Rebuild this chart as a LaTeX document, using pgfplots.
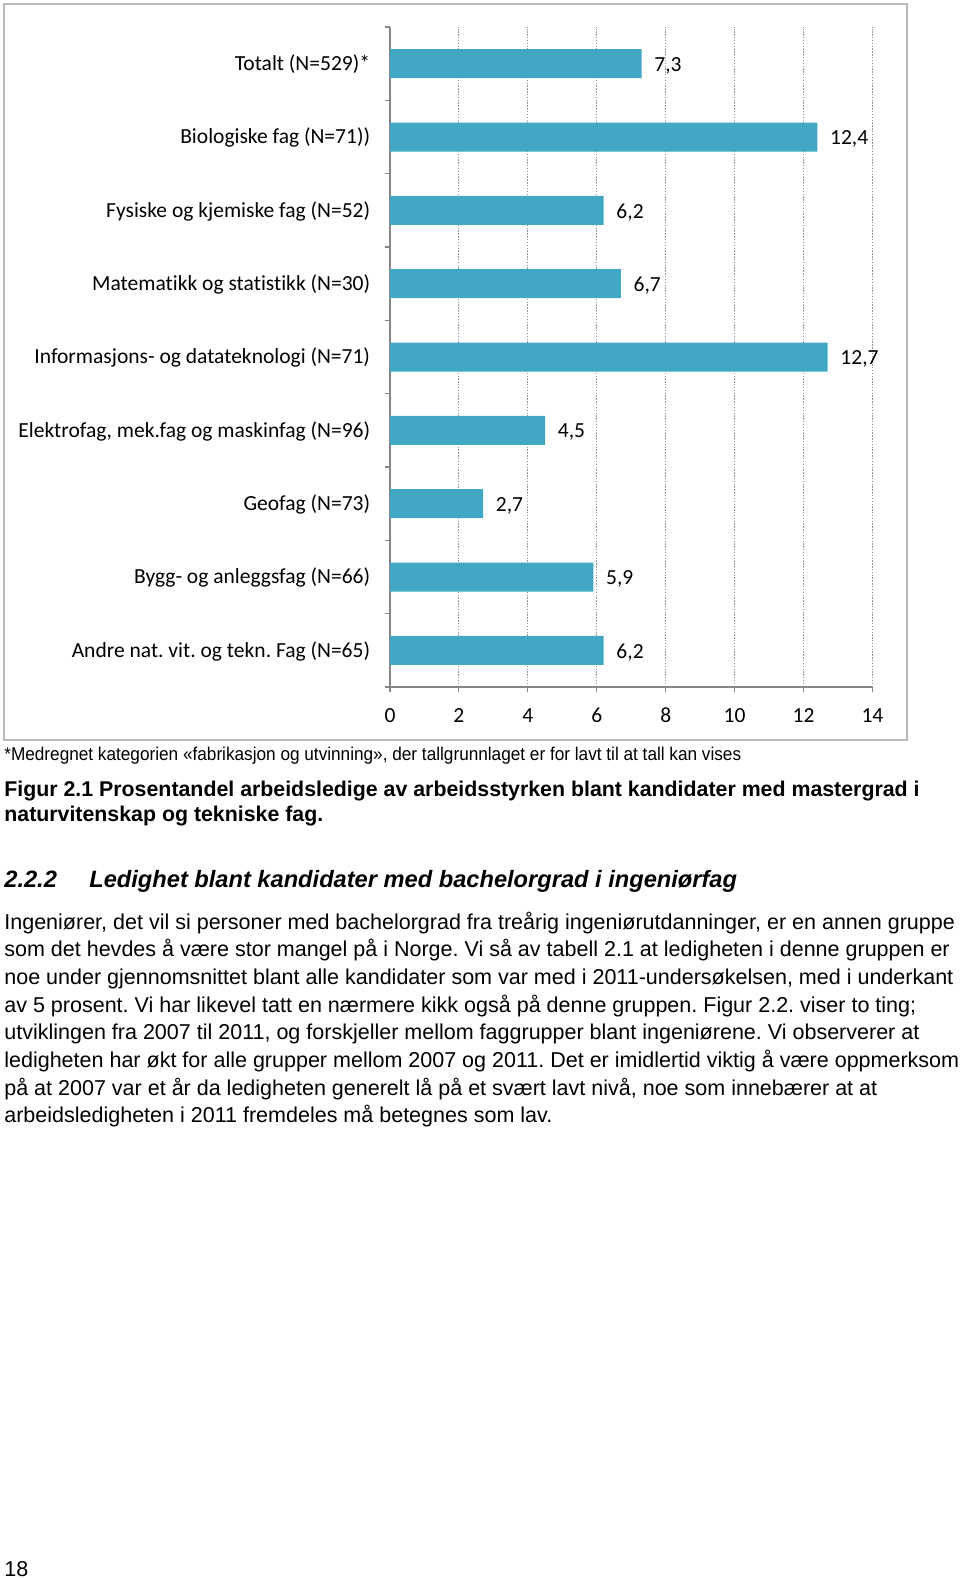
\documentclass[border=0pt]{standalone}
\usepackage{fontspec}
\setmainfont{Liberation Sans}
\newfontfamily\chartfont[Ligatures={NoCommon,NoContextual}]{Carlito}
\newfontfamily\narrowfont[FakeStretch=0.93]{Liberation Sans}
\usepackage{pgfplots}
\pgfplotsset{compat=1.18}
\definecolor{barblue}{RGB}{64,167,196}
\definecolor{axgray}{RGB}{134,134,134}
\definecolor{gridgray}{RGB}{150,150,150}
\definecolor{framegray}{RGB}{185,185,185}
\newcommand{\cf}{\chartfont\fontsize{12.1}{14}\selectfont}
\frenchspacing
\begin{document}
\frenchspacing
\begin{tikzpicture}[x=0.5625pt,y=-0.5625pt]
\path[use as bounding box] (0,0) rectangle (960,1578);
\draw[framegray, line width=0.9pt] (4,4) rectangle (907,740);
\coordinate (axorigin) at (390,687);
\begin{axis}[
  at={(axorigin)}, anchor=south west,
  scale only axis, width=271.4pt, height=371.25pt,
  xmin=0, xmax=14, ymin=-0.5, ymax=8.5,
  xbar, bar width=16.3pt,
  axis x line*=bottom, axis y line*=left,
  axis line style={axgray, line width=0.6pt, -},
  xtick={0,2,...,14},
  ytick={-0.5,0.5,...,8.5},
  y tick label as interval,
  yticklabels={Andre nat.\ vit.\ og tekn.\ Fag (N=65), Bygg- og anleggsfag (N=66), Geofag (N=73), {Elektrofag, mek.fag og maskinfag (N=96)}, Informasjons- og datateknologi (N=71), Matematikk og statistikk (N=30), Fysiske og kjemiske fag (N=52), Biologiske fag (N=71)), Totalt (N=529)*},
  tick align=outside,
  major tick length=3pt,
  tick style={axgray, line width=0.6pt},
  xmajorgrids,
  major grid style={gridgray, line width=0.5pt, dash pattern=on 0.8pt off 0.8pt},
  /pgf/number format/assume math mode=true,
  xticklabel style={font=\cf, inner sep=0pt, anchor=base, yshift=-17pt},
  yticklabel style={font=\cf, inner sep=0pt, anchor=east, xshift=-8pt, yshift=-0.5pt},
  point meta=x,
  nodes near coords={\pgfmathprintnumber[use comma,fixed,fixed zerofill,precision=1,assume math mode=true]{\pgfplotspointmeta}},
  nodes near coords style={font=\cf, anchor=west, inner sep=0pt, xshift=7pt, yshift=-1.1pt},
]
\addplot[fill=barblue, draw=none] coordinates {(6.2,0) (5.9,1) (2.7,2) (4.5,3) (12.7,4) (6.7,5) (6.2,6) (12.4,7) (7.3,8)};
\end{axis}
\node[anchor=base west, inner sep=0pt, font=\narrowfont\fontsize{10.4}{12}\selectfont] at (4,760) {*Medregnet kategorien «fabrikasjon og utvinning», der tallgrunnlaget er for lavt til at tall kan vises};
\begin{scope}[every node/.style={anchor=base west, inner sep=0pt, font=\bfseries\fontsize{12}{14}\selectfont}]
\node at (4,796) {Figur 2.1 Prosentandel arbeidsledige av arbeidsstyrken blant kandidater med mastergrad i};
\node at (4,821) {naturvitenskap og tekniske fag.};
\end{scope}
\begin{scope}[every node/.style={anchor=base west, inner sep=0pt, font=\bfseries\itshape\fontsize{13.3}{16}\selectfont}]
\node at (4,887) {2.2.2};
\node at (89,887) {Ledighet blant kandidater med bachelorgrad i ingeniørfag};
\end{scope}
\begin{scope}[every node/.style={anchor=base west, inner sep=0pt, font=\fontsize{12.1}{14}\selectfont}]
\node at (4,929) {Ingeniører, det vil si personer med bachelorgrad fra treårig ingeniørutdanninger, er en annen gruppe};
\node at (4,956.7) {som det hevdes å være stor mangel på i Norge. Vi så av tabell 2.1 at ledigheten i denne gruppen er};
\node at (4,984.4) {noe under gjennomsnittet blant alle kandidater som var med i 2011-undersøkelsen, med i underkant};
\node at (4,1012.1) {av 5 prosent. Vi har likevel tatt en nærmere kikk også på denne gruppen. Figur 2.2. viser to ting;};
\node at (4,1039.8) {utviklingen fra 2007 til 2011, og forskjeller mellom faggrupper blant ingeniørene. Vi observerer at};
\node at (4,1067.5) {ledigheten har økt for alle grupper mellom 2007 og 2011. Det er imidlertid viktig å være oppmerksom};
\node at (4,1095.2) {på at 2007 var et år da ledigheten generelt lå på et svært lavt nivå, noe som innebærer at at};
\node at (4,1122.9) {arbeidsledigheten i 2011 fremdeles må betegnes som lav.};
\node at (4,1576) {18};
\end{scope}
\end{tikzpicture}
\end{document}
